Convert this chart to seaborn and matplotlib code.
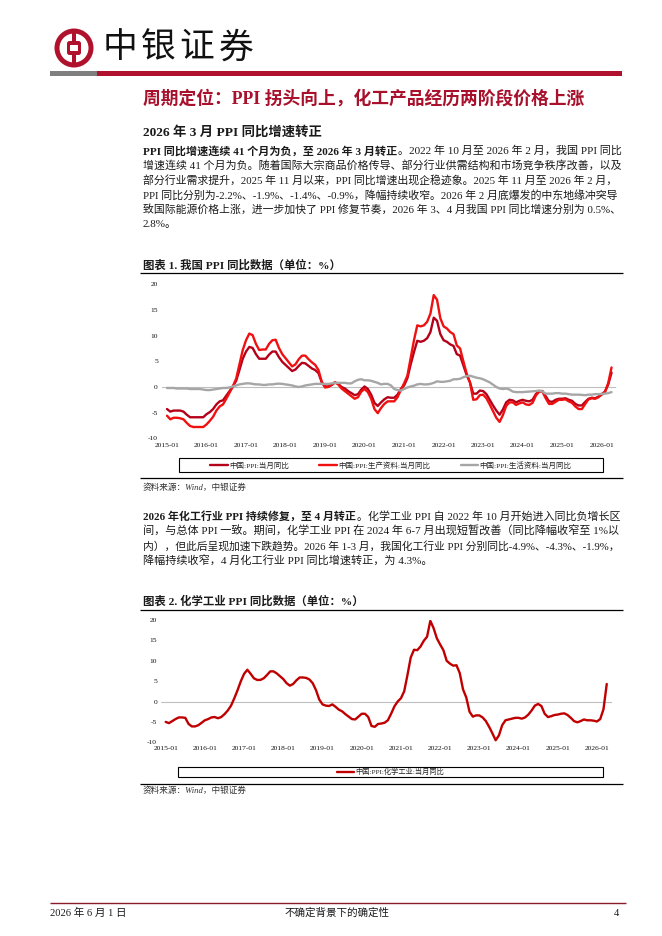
import numpy as np
import pandas as pd
import matplotlib
matplotlib.use("Agg")
import matplotlib.pyplot as plt
import seaborn as sns
from matplotlib.patches import Circle, Rectangle, FancyBboxPatch
from matplotlib.lines import Line2D

# ---------------- data ----------------
start_month = "2015-01"
ppi = [-4.3, -4.8, -4.6, -4.6, -4.6, -4.8, -5.4, -5.9, -5.9, -5.9, -5.9, -5.9,
       -5.3, -4.9, -4.3, -3.4, -2.8, -2.6, -1.7, -0.8, 0.1, 1.2, 3.3, 5.5,
       6.9, 7.8, 7.6, 6.4, 5.5, 5.5, 5.5, 6.3, 6.9, 6.9, 5.8, 4.9,
       4.3, 3.7, 3.1, 3.4, 4.1, 4.7, 4.6, 4.1, 3.6, 3.3, 2.7, 0.9,
       0.1, 0.1, 0.4, 0.9, 0.6, 0.0, -0.3, -0.8, -1.2, -1.6, -1.4, -0.5,
       0.1, -0.4, -1.5, -3.1, -3.7, -3.0, -2.4, -2.0, -2.1, -2.1, -1.5, -0.4,
       0.3, 1.7, 4.4, 6.8, 9.0, 8.8, 9.0, 9.5, 10.7, 13.5, 12.9, 10.3,
       9.1, 8.8, 8.3, 8.0, 6.4, 6.1, 4.2, 2.3, 0.9, -1.3, -1.3, -0.7,
       -0.8, -1.4, -2.5, -3.6, -4.6, -5.4, -4.4, -3.0, -2.5, -2.6, -3.0, -2.7,
       -2.5, -2.7, -2.8, -2.5, -1.4, -0.8, -0.8, -1.8, -2.8, -2.9, -2.5, -2.3,
       -2.3, -2.2, -2.5, -2.7, -3.3, -3.6, -3.6, -2.9, -2.3, -2.1, -2.2, -1.9,
       -1.4, -0.9, 0.5, 2.8]
ppi_prod = [-5.6, -6.3, -6.0, -6.0, -6.1, -6.3, -7.0, -7.6, -7.8, -7.8, -7.8, -7.8,
            -7.3, -6.6, -5.8, -4.6, -3.8, -3.4, -2.3, -1.1, 0.1, 1.6, 4.4, 7.2,
            9.1, 10.4, 10.1, 8.4, 7.2, 7.3, 7.3, 8.4, 9.1, 9.2, 7.6, 6.4,
            5.6, 4.8, 4.0, 4.4, 5.4, 6.1, 6.1, 5.4, 4.8, 4.3, 3.3, 1.0,
            -0.1, 0.0, 0.4, 0.9, 0.5, -0.3, -0.8, -1.3, -1.8, -2.3, -2.0, -0.9,
            -0.4, -1.0, -2.3, -4.3, -5.1, -4.1, -3.3, -2.8, -2.8, -2.8, -2.0, -0.6,
            0.7, 2.2, 5.7, 9.1, 12.0, 11.8, 12.0, 12.7, 14.3, 17.9, 17.0, 13.4,
            11.8, 11.4, 10.7, 10.3, 8.1, 7.5, 5.0, 2.6, 0.9, -2.5, -2.4, -1.6,
            -1.5, -2.2, -3.4, -4.7, -6.0, -6.8, -5.5, -3.7, -3.0, -3.0, -3.5, -3.2,
            -3.0, -3.4, -3.5, -3.1, -1.7, -0.9, -0.9, -2.2, -3.3, -3.3, -2.9, -2.5,
            -2.5, -2.4, -2.8, -3.1, -3.8, -4.3, -4.3, -3.3, -2.4, -2.2, -2.3, -2.0,
            -1.5, -1.0, 0.8, 3.8]
ppi_living = [-0.2, -0.2, -0.2, -0.3, -0.3, -0.3, -0.3, -0.4, -0.4, -0.4, -0.4, -0.5,
              -0.6, -0.6, -0.5, -0.4, -0.3, -0.2, -0.2, -0.1, 0.1, 0.3, 0.5, 0.6,
              0.7, 0.7, 0.6, 0.5, 0.5, 0.4, 0.4, 0.5, 0.5, 0.6, 0.65, 0.6,
              0.5, 0.4, 0.3, 0.1, 0.0, 0.1, 0.3, 0.4, 0.5, 0.6, 0.6, 0.6,
              0.6, 0.6, 0.7, 0.8, 0.8, 0.8, 0.8, 0.7, 0.7, 1.1, 1.4, 1.5,
              1.3, 1.3, 1.2, 1.0, 0.8, 0.5, 0.6, 0.6, 0.3, -0.4, -0.6, -0.7,
              -0.4, -0.1, 0.1, 0.25, 0.5, 0.6, 0.5, 0.5, 0.6, 0.8, 1.1, 1.0,
              1.0, 1.1, 1.2, 1.5, 1.5, 1.6, 1.9, 2.1, 2.2, 2.0, 1.8, 1.7,
              1.5, 1.2, 0.9, 0.45, 0.0, -0.3, -0.4, -0.3, -0.5, -0.9, -1.0, -1.0,
              -1.0, -0.95, -0.9, -0.85, -0.8, -0.7, -0.9, -1.3, -1.3, -1.3, -1.2, -1.2,
              -1.3, -1.3, -1.4, -1.5, -1.5, -1.5, -1.55, -1.6, -1.5, -1.5, -1.4, -1.4,
              -1.35, -1.3, -1.2, -1.0]
ppi_chem = [-5.0, -5.3, -4.8, -4.3, -3.9, -3.9, -4.0, -5.5, -6.1, -6.1, -5.8, -5.2,
            -4.6, -4.3, -3.9, -3.8, -4.1, -3.8, -3.1, -2.2, -1.0, 0.8, 2.8, 5.0,
            6.8, 7.8, 6.8, 5.7, 5.3, 5.3, 5.7, 6.5, 7.4, 7.4, 6.9, 6.2,
            5.5, 4.5, 3.9, 4.3, 5.2, 5.9, 5.9, 5.8, 5.4, 4.5, 2.8, 0.5,
            -0.7, -1.0, -1.1, -0.7, -1.3, -2.0, -2.4, -3.1, -3.7, -4.3, -4.4, -3.7,
            -3.0, -3.0, -3.8, -6.0, -6.2, -5.5, -5.4, -5.2, -4.6, -3.0, -1.2, 0.0,
            0.8, 2.5, 6.5, 10.8, 12.7, 12.6, 13.5, 14.9, 15.9, 19.8, 18.0, 15.5,
            14.0, 12.6, 10.0, 9.3, 8.8, 8.9, 7.0, 3.0, 1.0, -2.5, -3.7, -3.4,
            -3.4, -3.9, -4.8, -6.2, -7.8, -9.5, -8.3, -5.8, -4.6, -4.4, -4.2, -4.0,
            -4.0, -4.2, -3.9, -3.2, -2.2, -1.0, -0.6, -1.1, -3.0, -3.8, -3.6, -3.3,
            -3.2, -3.0, -2.9, -3.3, -4.0, -4.8, -5.1, -4.8, -4.4, -4.6, -4.6, -4.7,
            -4.9, -4.3, -1.9, 4.3]
xtick_labels = ["2015-01", "2016-01", "2017-01", "2018-01", "2019-01", "2020-01",
                "2021-01", "2022-01", "2023-01", "2024-01", "2025-01", "2026-01"]
yticks = [-10, -5, 0, 5, 10, 15, 20]
series1 = ["中国:PPI:当月同比", "中国:PPI:生产资料:当月同比", "中国:PPI:生活资料:当月同比"]
series2 = ["中国:PPI:化学工业:当月同比"]

# ---------------- styling ----------------
sns.set_theme(style="white")
FAM = ["Liberation Serif", "Noto Sans CJK SC"]
plt.rcParams["font.family"] = FAM
plt.rcParams["axes.unicode_minus"] = False

RED = "#B0122E"
TITLE_RED = "#A8102C"
TXT = "#1a1a1a"

W, H = 662, 936
fig = plt.figure(figsize=(W / 100, H / 100), dpi=100)
pax = fig.add_axes([0, 0, 1, 1])
pax.set_xlim(0, W)
pax.set_ylim(H, 0)
pax.axis("off")


def rect(l, r, t, b):
    return [l / W, 1 - b / H, (r - l) / W, (b - t) / H]


def hline(x0, x1, y, color="black", lw=0.8):
    pax.plot([x0, x1], [y, y], color=color, lw=lw, solid_capstyle="butt")


# ---------------- header ----------------
cx, cy = 74, 48
pax.add_patch(Circle((cx, cy), 19.5, color=RED, lw=0))
pax.add_patch(Circle((cx, cy), 14.5, color="white", lw=0))
pax.add_patch(Rectangle((cx - 2.2, cy - 17), 4.4, 34, color=RED, lw=0))
pax.add_patch(FancyBboxPatch((cx - 7, cy - 7), 14, 14, boxstyle="round,pad=0,rounding_size=2.5",
                             color=RED, lw=0))
pax.add_patch(Rectangle((cx - 3.6, cy - 3), 7.2, 6, color="white", lw=0))
for ch, x in zip("中银证券", [120, 158.5, 197, 236]):
    pax.text(x, 48, ch, fontsize=25, ha="center", va="center", color="#111111",
             family=["Noto Sans CJK SC"])
pax.add_patch(Rectangle((50, 70.5), 47, 5.5, color="#7F7F7F", lw=0))
pax.add_patch(Rectangle((97, 70.5), 525, 5.5, color=RED, lw=0))

pax.text(143, 98, "周期定位：PPI 拐头向上，化工产品经历两阶段价格上涨", fontsize=12.8,
         fontweight="bold", color=TITLE_RED, ha="left", va="center", family=FAM)
pax.text(143, 132, "2026 年 3 月 PPI 同比增速转正", fontsize=9.6, fontweight="bold",
         color=TXT, ha="left", va="center", family=FAM)

renderer = fig.canvas.get_renderer()


def put_line(y, parts, x0=143, target=None, size=8.0):
    texts = []
    for s, bold in parts:
        t = pax.text(x0, y, s, fontsize=size, fontweight="bold" if bold else "normal",
                     color=TXT, ha="left", va="center", family=FAM)
        texts.append(t)
    widths = [t.get_window_extent(renderer).width for t in texts]
    if target is not None:
        scale = (target - x0) / sum(widths)
        scale = max(0.86, min(1.14, scale))
        for t in texts:
            t.set_fontsize(size * scale)
        widths = [t.get_window_extent(renderer).width for t in texts]
    x = x0
    for t, w in zip(texts, widths):
        t.set_x(x)
        x += w + 1.2


p1 = [
    [("PPI 同比增速连续 41 个月为负，至 2026 年 3 月转正", True),
     ("。2022 年 10 月至 2026 年 2 月，我国 PPI 同比", False)],
    [("增速连续 41 个月为负。随着国际大宗商品价格传导、部分行业供需结构和市场竞争秩序改善，以及", False)],
    [("部分行业需求提升，2025 年 11 月以来，PPI 同比增速出现企稳迹象。2025 年 11 月至 2026 年 2 月，", False)],
    [("PPI 同比分别为-2.2%、-1.9%、-1.4%、-0.9%，降幅持续收窄。2026 年 2 月底爆发的中东地缘冲突导", False)],
    [("致国际能源价格上涨，进一步加快了 PPI 修复节奏，2026 年 3、4 月我国 PPI 同比增速分别为 0.5%、", False)],
    [("2.8%。", False)],
]
for i, parts in enumerate(p1):
    put_line(151 + i * 14.7, parts, target=None if i == len(p1) - 1 else 620)

p2 = [
    [("2026 年化工行业 PPI 持续修复，至 4 月转正", True),
     ("。化学工业 PPI 自 2022 年 10 月开始进入同比负增长区", False)],
    [("间，与总体 PPI 一致。期间，化学工业 PPI 在 2024 年 6-7 月出现短暂改善（同比降幅收窄至 1%以", False)],
    [("内），但此后呈现加速下跌趋势。2026 年 1-3 月，我国化工行业 PPI 分别同比-4.9%、-4.3%、-1.9%，", False)],
    [("降幅持续收窄，4 月化工行业 PPI 同比增速转正，为 4.3%。", False)],
]
for i, parts in enumerate(p2):
    put_line(516.5 + i * 14.8, parts, target=None if i == len(p2) - 1 else 621)

# ---------------- chart helpers ----------------
dates = pd.date_range(start_month, periods=len(ppi), freq="MS")
mnum = (dates.year - 2015) * 12 + dates.month - 1
xtick_pos = [(int(s[:4]) - 2015) * 12 + int(s[5:]) - 1 for s in xtick_labels]


def style_axis(ax, ypad, xpad):
    ax.set_xlim(-1.5, 136.5)
    ax.set_ylim(-10, 20)
    ax.set_xticks(xtick_pos)
    ax.set_xticklabels(xtick_labels)
    ax.set_yticks(yticks)
    ax.set_yticklabels([str(v) for v in yticks])
    ax.tick_params(axis="both", length=0, labelsize=5.4, colors="#111111")
    ax.tick_params(axis="y", pad=ypad)
    ax.tick_params(axis="x", pad=xpad)
    for s in ax.spines.values():
        s.set_visible(False)
    ax.set_xlabel("")
    ax.set_ylabel("")
    ax.set_facecolor("none")
    ax.grid(False)
    ax.axhline(0, color="#BFBFBF", lw=0.8, zorder=0)


# ---------------- chart 1 ----------------
pax.text(143, 265, "图表 1. 我国 PPI 同比数据（单位：%）", fontsize=8.2, fontweight="bold",
         color=TXT, ha="left", va="center", family=FAM)
hline(140, 623, 272.5, lw=0.9)

df1 = pd.DataFrame({"m": mnum, series1[0]: ppi, series1[1]: ppi_prod, series1[2]: ppi_living})
long1 = df1.melt(id_vars="m", var_name="series", value_name="value")
colors1 = {series1[0]: "#B5001A", series1[1]: "#F01010", series1[2]: "#A6A6A6"}
ax1 = fig.add_axes(rect(167 - 3.293 * 1.5, 167 + 3.293 * 136.5, 284.3, 438.3))
sns.lineplot(data=long1, x="m", y="value", hue="series", hue_order=series1,
             palette=colors1, linewidth=1.7, legend=False, ax=ax1)
style_axis(ax1, ypad=3.0, xpad=3.6)

pax.add_patch(Rectangle((179, 458), 424, 13.5, fill=False, ec="black", lw=0.8))
h1 = [Line2D([], [], color=colors1[s], lw=1.7) for s in series1]
fig.legend(h1, series1, loc="center", bbox_to_anchor=(391 / W, 1 - 464.8 / H),
           ncol=3, frameon=False, fontsize=5.4, handlelength=2.3, handletextpad=0.25,
           columnspacing=4.0, borderpad=0, borderaxespad=0)
hline(140, 623, 478, lw=0.9)
pax.text(143, 487.5, "资料来源：Wind，中银证券", fontsize=6.2, style="italic",
         color="#333333", ha="left", va="center", family=FAM)

# ---------------- chart 2 ----------------
pax.text(143, 600.7, "图表 2. 化学工业 PPI 同比数据（单位：%）", fontsize=8.2, fontweight="bold",
         color=TXT, ha="left", va="center", family=FAM)
hline(140, 623, 610, lw=0.9)

df2 = pd.DataFrame({"m": mnum, "value": ppi_chem, "series": series2[0]})
ax2 = fig.add_axes(rect(165.7 - 3.267 * 1.5, 165.7 + 3.267 * 136.5, 620, 742.3))
sns.lineplot(data=df2, x="m", y="value", hue="series", palette={series2[0]: "#C00000"},
             linewidth=1.7, legend=False, ax=ax2)
style_axis(ax2, ypad=2.6, xpad=2.8)

pax.add_patch(Rectangle((178, 767), 425, 9.5, fill=False, ec="black", lw=0.8))
h2 = [Line2D([], [], color="#C00000", lw=1.7)]
fig.legend(h2, series2, loc="center", bbox_to_anchor=(391 / W, 1 - 771.8 / H),
           ncol=1, frameon=False, fontsize=5.2, handlelength=2.3, handletextpad=0.25,
           borderpad=0, borderaxespad=0)
hline(140, 623, 783.5, lw=0.9)
pax.text(143, 790.5, "资料来源：Wind，中银证券", fontsize=6.2, style="italic",
         color="#333333", ha="left", va="center", family=FAM)

# ---------------- footer ----------------
hline(50, 626, 903, color="#8B1A2B", lw=1.0)
pax.text(50, 913, "2026 年 6 月 1 日", fontsize=7.6, color=TXT, ha="left", va="center", family=FAM)
pax.text(337, 913, "不确定背景下的确定性", fontsize=7.6, color=TXT, ha="center", va="center", family=FAM)
pax.text(619, 913, "4", fontsize=7.6, color=TXT, ha="right", va="center", family=FAM)

fig.savefig("out.png", dpi=100)
